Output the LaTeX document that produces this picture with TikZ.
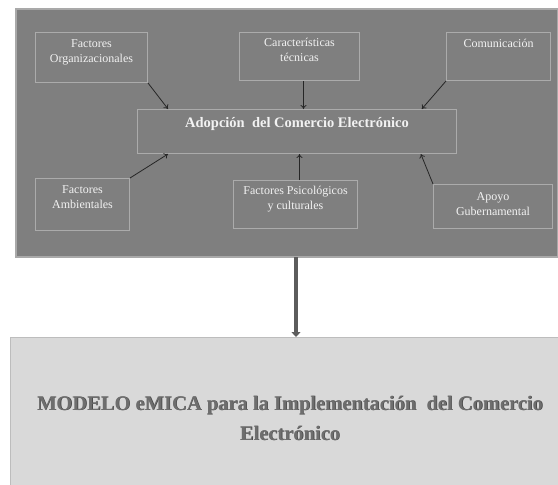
\documentclass[tikz,border=0pt]{standalone}
\usepackage{fontspec}
\setmainfont{Liberation Serif}
\usetikzlibrary{calc,arrows.meta}
\definecolor{panel}{HTML}{7F7F7F}
\definecolor{panelline}{HTML}{A9A9A9}
\definecolor{boxline}{HTML}{ABABAB}
\definecolor{lowfill}{HTML}{D9D9D9}
\definecolor{lowline}{HTML}{BDBDBD}
\definecolor{txtlight}{HTML}{F2F2F2}
\definecolor{bigarrow}{HTML}{5C5C5C}
\definecolor{modeltxt}{HTML}{6E6E6E}
\tikzset{
  smallbox/.style={draw=boxline, line width=1pt, fill=panel, inner sep=0pt, anchor=north west},
  smalltxt/.style={text=txtlight, align=center, anchor=north, inner sep=0pt,
    font=\fontsize{12}{15}\selectfont},
  thinarrow/.style={draw=black!85, line width=0.8pt, -{To[length=4pt,width=6pt]}},
}
\begin{document}
\begin{tikzpicture}[x=1pt,y=-1pt]
\useasboundingbox (0,0) rectangle (558,485);
\fill[white] (0,0) rectangle (558,485);
% outer panel
\node[draw=panelline, line width=1.5pt, fill=panel, minimum width=542pt, minimum height=248pt, anchor=north west, inner sep=0pt] (panel) at (15,8) {};
% lower box
\node[draw=lowline, line width=1.2pt, fill=lowfill, minimum width=560pt, minimum height=160pt, anchor=north west, inner sep=0pt] (model) at (10,337) {};
% small boxes
\node[smallbox, minimum width=112pt, minimum height=50pt] (org) at (35,32) {};
\node[smallbox, minimum width=120pt, minimum height=48pt] (car) at (239,32) {};
\node[smallbox, minimum width=104pt, minimum height=48pt] (com) at (446,32) {};
\node[smallbox, minimum width=94pt, minimum height=52pt] (amb) at (35,178) {};
\node[smallbox, minimum width=124pt, minimum height=48pt] (psi) at (233,180) {};
\node[smallbox, minimum width=119pt, minimum height=44pt] (apo) at (433,184) {};
\node[smallbox, minimum width=319pt, minimum height=44pt] (adop) at (137,109) {};
% texts
\node[smalltxt] (torg) at ($(org.north)+(0,7)$) {Factores\\Organizacionales};
\node[smalltxt] (tcar) at ($(car.north)+(0,6)$) {Características\\técnicas};
\node[smalltxt] (tcom) at ($(com.north)+(0,7)$) {Comunicación};
\node[smalltxt] (tamb) at ($(amb.north)+(0,7)$) {Factores\\Ambientales};
\node[smalltxt] (tpsi) at ($(psi.north)+(0,6)$) {Factores Psicológicos\\y culturales};
\node[smalltxt] (tapo) at ($(apo.north)+(0,8)$) {Apoyo\\Gubernamental};
\node[text=txtlight, font=\fontsize{14.5}{17}\selectfont\bfseries, anchor=north, inner sep=0pt] (tadop) at ($(adop.north)+(0,8)$) {Adopción\ \ del Comercio Electrónico};
% model text with shadow
\node[text=black!75, font=\fontsize{20.5}{30}\selectfont\bfseries, align=center, inner sep=0pt] (tmodsh) at (290.6,418.6) {MODELO eMICA para la Implementación\ \ del Comercio\\Electrónico};
\node[text=modeltxt, font=\fontsize{20.5}{30}\selectfont\bfseries, align=center, inner sep=0pt] (tmod) at (290,418) {MODELO eMICA para la Implementación\ \ del Comercio\\Electrónico};
% small arrows
\draw[thinarrow] (org.south east) -- ($(adop.north west)!0.097!(adop.north east)$);
\draw[thinarrow] ($(car.south)+(4,0)$) coordinate (c1) -- (c1 |- adop.north);
\draw[thinarrow] (com.south west) -- ($(adop.north west)!0.89!(adop.north east)$);
\draw[thinarrow] (amb.north east) -- ($(adop.south west)!0.097!(adop.south east)$);
\draw[thinarrow] ($(psi.north)+(4,0)$) coordinate (c2) -- (c2 |- adop.south);
\draw[thinarrow] (apo.north west) -- ($(adop.south west)!0.887!(adop.south east)$);
% big arrow
\draw[draw=bigarrow, line width=4pt, -{Triangle[length=5pt,width=9pt]}] (296,257) coordinate (a1) -- (a1 |- model.north);
\end{tikzpicture}
\end{document}
